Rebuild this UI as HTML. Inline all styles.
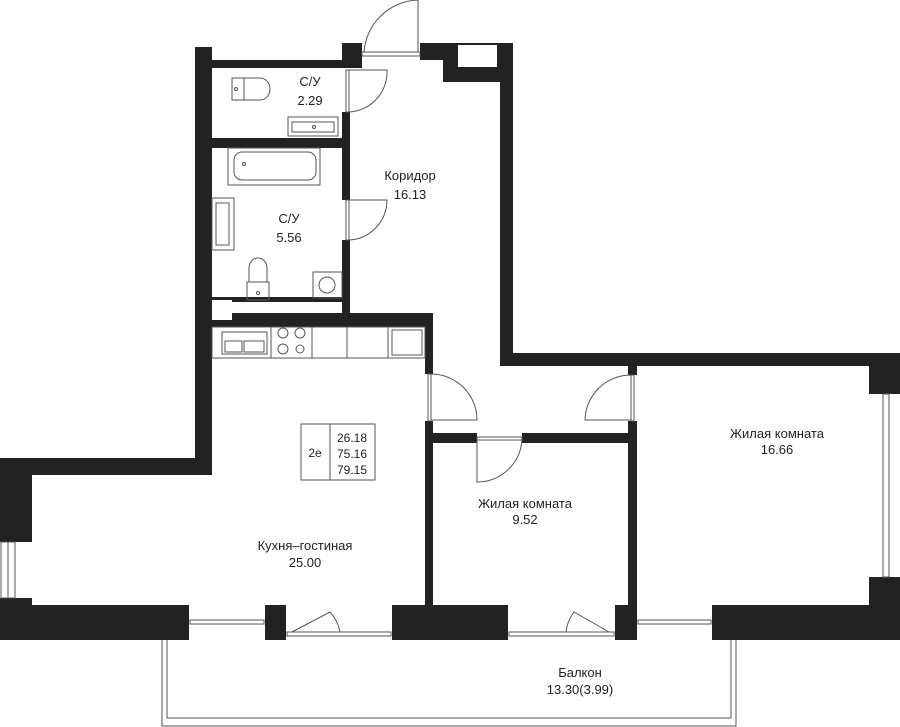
<!DOCTYPE html>
<html><head><meta charset="utf-8"><style>
html,body{margin:0;padding:0;background:#fff;}
svg{display:block;}
text{font-family:"Liberation Sans","Noto Sans CJK SC",sans-serif;font-size:13px;fill:#222;text-anchor:middle;}
</style></head><body>
<svg width="900" height="727" viewBox="0 0 900 727" xmlns="http://www.w3.org/2000/svg">
<g fill="#222">
<!-- left bathroom wall -->
<rect x="195" y="47" width="17" height="428"/>
<rect x="0" y="458" width="212" height="17"/>
<rect x="0" y="458" width="32" height="84"/>
<rect x="0" y="598" width="32" height="42"/>
<!-- top bath walls -->
<rect x="195" y="60" width="155" height="8"/>
<rect x="342" y="43" width="20" height="25"/>
<rect x="420" y="43" width="93" height="17"/>
<rect x="443" y="43" width="70" height="39"/>
<rect x="500" y="43" width="13" height="323"/>
<rect x="500" y="353" width="400" height="13"/>
<!-- corridor left wall -->
<rect x="342" y="112" width="8" height="88"/>
<rect x="342" y="240" width="8" height="87"/>
<rect x="212" y="138" width="138" height="10"/>
<rect x="212" y="297" width="138" height="5"/>
<rect x="212" y="313" width="221" height="14"/>
<rect x="425" y="313" width="8" height="61"/>
<rect x="425" y="421" width="8" height="184"/>
<rect x="425" y="433" width="52" height="10"/>
<rect x="522" y="433" width="115" height="10"/>
<rect x="628" y="366" width="9" height="9"/>
<rect x="628" y="421" width="9" height="184"/>
<!-- right wall -->
<rect x="869" y="353" width="31" height="41"/>
<rect x="869" y="577" width="31" height="63"/>
<!-- bottom wall -->
<rect x="0" y="605" width="189" height="35"/>
<rect x="265" y="605" width="21" height="35"/>
<rect x="392" y="605" width="116" height="35"/>
<rect x="615" y="605" width="22" height="35"/>
<rect x="712" y="605" width="188" height="35"/>
</g>
<g fill="#fff">
<rect x="458" y="45" width="39" height="22"/>
<rect x="212" y="68" width="13" height="34"/>
<rect x="212" y="107" width="13" height="31"/>
<rect x="212" y="148" width="13" height="22"/>
<rect x="212" y="300" width="20" height="20"/>
<rect x="236" y="302" width="106" height="11"/>
</g>
<g fill="none" stroke="#555" stroke-width="1">
<!-- windows -->
<rect x="1" y="542" width="14" height="56"/><line x1="8" y1="542" x2="8" y2="598"/>
<rect x="883" y="394" width="6" height="183"/>
<rect x="190" y="620" width="74" height="4"/>
<rect x="638" y="620" width="73" height="4"/>
<!-- balcony doors -->
<rect x="287" y="632" width="104" height="4"/>
<path d="M292 632 L330 612 A40 40 0 0 1 340 632"/>
<rect x="509" y="632" width="105" height="4"/>
<path d="M609 632 L574 612 A40 40 0 0 0 566 632"/>
<!-- balcony -->
<path d="M162 640 V726 H736 V640"/>
<path d="M167 640 V718 H731 V640"/>
<!-- interior doors -->
<rect x="362" y="52" width="58" height="4"/><path d="M364 52 A56 56 0 0 1 418 0"/><line x1="418" y1="0" x2="418" y2="52"/>
<rect x="346" y="70" width="3" height="42"/><path d="M349 70 H387 A40 40 0 0 1 349 112"/>
<rect x="346" y="200" width="3" height="40"/><path d="M349 200 H387 A40 40 0 0 1 349 240"/>
<rect x="428" y="374" width="3" height="47"/><path d="M431 374 A46 46 0 0 1 477 420 H431"/>
<rect x="477" y="437" width="45" height="3"/><path d="M477 440 V482 A45 45 0 0 0 522 440"/>
<rect x="631" y="375" width="3" height="46"/><path d="M631 375 A46 46 0 0 0 585 420 H631"/>
<!-- fixtures -->
<path d="M232 78 H244 V100 H232 Z"/><path d="M244 78 H260 A10 11 0 0 1 260 100 H244"/><circle cx="236" cy="89" r="1.5"/>
<rect x="288" y="117" width="50" height="19"/><rect x="292" y="122" width="42" height="10"/><circle cx="314" cy="127" r="1.5"/>
<rect x="228" y="148" width="92" height="37"/><rect x="234" y="152" width="82" height="28" rx="8"/><circle cx="244" cy="164" r="1.5"/>
<rect x="212" y="198" width="22" height="52"/><rect x="216" y="203" width="13" height="42"/>
<path d="M247 282 V300 H269 V282 Z"/><path d="M249 282 V268 A9 10 0 0 1 267 268 V282"/><circle cx="258" cy="293" r="1.5"/>
<rect x="313" y="272" width="29" height="26"/><circle cx="327" cy="285" r="8"/>
<!-- kitchen -->
<rect x="212" y="327" width="213" height="31"/>
<line x1="271" y1="327" x2="271" y2="358"/><line x1="312" y1="327" x2="312" y2="358"/><line x1="347" y1="327" x2="347" y2="358"/><line x1="388" y1="327" x2="388" y2="358"/>
<rect x="392" y="330" width="30" height="25"/>
<rect x="222" y="332" width="45" height="22"/><rect x="225" y="341" width="17" height="11"/><rect x="244" y="341" width="20" height="11"/>
<circle cx="283" cy="333" r="5"/><circle cx="300" cy="333" r="5"/><circle cx="283" cy="349" r="5"/><circle cx="300" cy="349" r="4"/>
<!-- info box -->
<rect x="301" y="424" width="74" height="56"/><line x1="330" y1="424" x2="330" y2="480"/>
</g>
<text x="310" y="86">С/У</text><text x="310" y="105">2.29</text>
<text x="410" y="180">Коридор</text><text x="410" y="199">16.13</text>
<text x="289" y="223">С/У</text><text x="289" y="242">5.56</text>
<text x="315" y="457" style="font-size:12px">2е</text>
<text x="352" y="442" style="font-size:12px">26.18</text><text x="352" y="458" style="font-size:12px">75.16</text><text x="352" y="474" style="font-size:12px">79.15</text>
<text x="305" y="550">Кухня–гостиная</text><text x="305" y="567">25.00</text>
<text x="525" y="508">Жилая комната</text><text x="525" y="524">9.52</text>
<text x="777" y="438">Жилая комната</text><text x="777" y="454">16.66</text>
<text x="580" y="677">Балкон</text><text x="580" y="694">13.30(3.99)</text>
</svg>
</body></html>
